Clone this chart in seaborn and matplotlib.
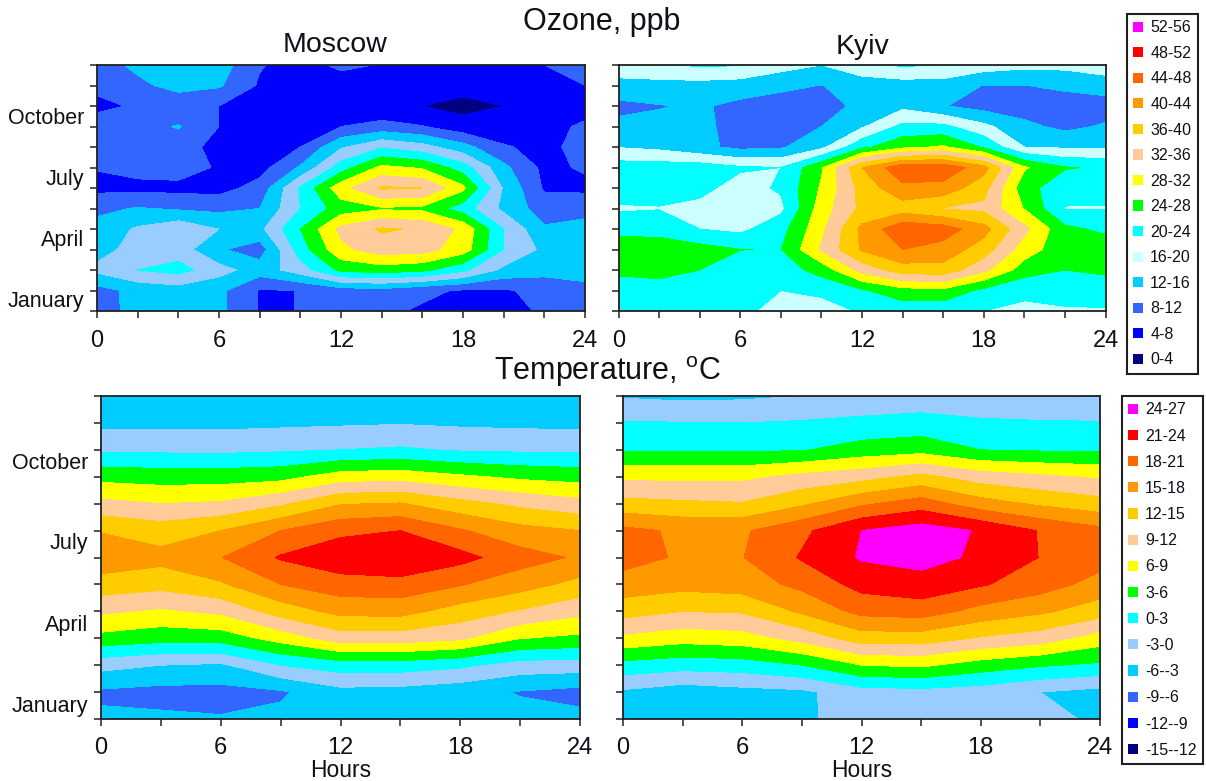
import numpy as np
import matplotlib
matplotlib.use("Agg")
import matplotlib.pyplot as plt
from matplotlib.patches import Patch
import seaborn as sns

W, H = 1206, 781

months = ["January", "April", "July", "October"]
month_pos_ozone = [0.58, 3.55, 6.55, 9.5]
month_pos_temp = [0.55, 3.55, 6.62, 9.57]
month_grid = list(range(13))
hours_ozone = list(range(0, 25, 2))
hours_temp = list(range(0, 25, 3))
hour_labels = [0, 6, 12, 18, 24]

ozone_levels = list(range(0, 57, 4))
temp_levels = list(range(-15, 28, 3))

ozone_names = ["0-4", "4-8", "8-12", "12-16", "16-20", "20-24", "24-28", "28-32",
               "32-36", "36-40", "40-44", "44-48", "48-52", "52-56"]
temp_names = ["-15--12", "-12--9", "-9--6", "-6--3", "-3-0", "0-3", "3-6", "6-9",
              "9-12", "12-15", "15-18", "18-21", "21-24", "24-27"]

base = ["#000080", "#0000FF", "#3366FF", "#00CCFF", "#CCFFFF", "#00FFFF", "#00FF00",
        "#FFFF00", "#FFCC99", "#FFCC00", "#FF9900", "#FF6600", "#FF0000", "#FF00FF"]
pale = base[:4] + ["#99CCFF"] + base[5:]

# ozone, one row per month tick from the bottom, one value per 2 hours
moscow_ozone = [
    [10, 13.5, 14.5, 13, 7.7, 8.05, 9, 8.8, 7.5, 7, 6.5, 8.6, 10],
    [10.5, 13.2, 14, 13, 7.7, 8.05, 10, 10.5, 8.8, 7.6, 7.6, 9, 10.5],
    [17, 20, 21.5, 17.5, 14, 18, 25, 26, 25, 21, 15, 13.5, 14],
    [14.5, 17.5, 18, 12.5, 10, 22, 31, 34, 33.5, 30, 20, 15, 14.5],
    [13.5, 16.5, 19, 16, 15, 24, 33, 36.5, 35.5, 31, 20, 12.5, 13],
    [11, 12.3, 11.5, 11, 12, 20, 26, 27.5, 27, 22, 15, 10, 11],
    [7, 6.8, 6.8, 6.5, 9.5, 20.5, 30.5, 36.5, 36, 29, 15.5, 7.5, 7],
    [8.2, 9.5, 10, 7.5, 6.5, 12.5, 22, 29, 27.5, 22, 13, 7, 8.5],
    [9.5, 10, 10, 6.5, 5.5, 8, 15.5, 19.5, 17.5, 13.5, 8.5, 6.5, 10],
    [10, 10.5, 12.3, 8, 5, 5.5, 8, 9.5, 8.2, 5.5, 5, 6, 9],
    [7, 8.5, 9, 8, 4.5, 4.5, 5, 4.5, 4, 2.8, 4, 5, 5.5],
    [9, 11, 13.5, 12.5, 7.5, 5.5, 6, 6.5, 6, 5.5, 6, 6.5, 8],
    [10, 13, 15, 14, 8.3, 6.5, 8.8, 7.8, 7, 6, 6.5, 8, 10],
]
kyiv_ozone = [
    [19.8, 21, 21, 21, 18.5, 18, 20.5, 21.5, 21, 20, 19.5, 19.7, 19.8],
    [21.5, 22, 22, 21.5, 20, 21, 23.5, 26.5, 27, 23, 20.5, 21, 21],
    [25, 25.5, 24, 22.5, 22, 25.5, 33.5, 38, 38.5, 33, 26, 24, 25],
    [26.5, 25.5, 25.5, 24.05, 23.9, 32.5, 40.5, 44, 42.5, 38, 30, 25.5, 27],
    [22.5, 23, 20, 19, 22.5, 31, 41, 47, 46, 41.5, 33, 25, 23],
    [19.5, 19.8, 19, 18, 19, 30, 37, 38, 35.8, 35, 27.8, 19.8, 19.8],
    [22, 21.5, 21, 18.5, 20.5, 28.5, 37.5, 43, 42.5, 37.5, 25.5, 21.5, 21],
    [22, 22, 22, 20.5, 20, 27.5, 40, 47, 47, 41.5, 28.5, 24.3, 23.5],
    [15.8, 15, 13, 11, 11.5, 15, 23, 27, 28.5, 23.5, 16, 15.5, 15.5],
    [13, 13, 13, 10.5, 10, 12, 15.5, 21, 21, 17, 13, 11, 12.5],
    [11, 11.8, 12.5, 11, 10, 9.5, 13.5, 15, 12.2, 10.5, 10, 9.5, 10],
    [14.5, 14.5, 14.5, 14, 13, 11.9, 13.5, 14, 14, 11.9, 11.9, 13, 14],
    [18.5, 19.5, 20.5, 20.2, 17.5, 16, 19, 20.5, 19.9, 18, 17, 17, 18],
]

# temperature, one column per 3 hours, written from December down to January
moscow_temp = [
    [-5, -3.8, -0.5, 5, 9.8, 14.8, 17, 13.7, 9.5, 5, -2, -6.5, -5.5],
    [-5, -3.8, -0.6, 4.6, 9, 13.5, 16, 13, 8.5, 4.1, -3, -7, -5.5],
    [-5, -3.8, -0.7, 4.6, 9.4, 15, 17.9, 14.6, 9.6, 4.3, -3.5, -7, -5.8],
    [-5, -3.6, -0.4, 5, 11.5, 18, 21.3, 18, 13.3, 7.2, 0, -6.4, -5.3],
    [-5, -3.4, 0, 7.4, 14.8, 20.3, 23, 19.7, 15.9, 10.5, 1.5, -4, -5],
    [-5, -3.2, 0.4, 7.8, 15.2, 21, 23.5, 20, 16, 10.5, 1.5, -4.2, -5],
    [-5, -3.5, -0.3, 6.5, 13, 18.3, 22, 18.2, 13.7, 9.5, 0.6, -5, -5],
    [-5, -3.7, -0.5, 5.4, 11.3, 16, 19.3, 16.3, 11.7, 6.1, -1.3, -6.2, -5],
    [-5, -3.8, -0.5, 4.8, 10, 15, 17.6, 14, 9.8, 5.3, -1.5, -7, -5.2],
]
kyiv_temp = [
    [-3.3, 0.2, 2.6, 8.3, 13, 18.8, 19.2, 16.7, 13.2, 8.3, 2, -3.5, -4.8],
    [-3.7, 0.1, 2.6, 8.3, 12.5, 17.5, 17.6, 16, 12, 7.2, 1.2, -4.7, -4.8],
    [-3.5, 0, 2.6, 8.3, 12.2, 17.6, 17.9, 16.5, 12.3, 7.7, 1.5, -4, -4.7],
    [-3, 0.3, 2.8, 9.8, 14.5, 20.3, 21.3, 18.8, 15.5, 10, 3, -3.6, -3.4],
    [-2.4, 0.8, 4.2, 10.9, 17.5, 24, 24.3, 22, 18.9, 13.5, 6, -1.3, -2],
    [-1.8, 1.1, 4.9, 12.8, 19.5, 25.5, 25, 22.9, 19.4, 13.5, 6.5, -1, -2],
    [-2.4, 0.5, 3, 10.5, 16.3, 23.7, 23.5, 21.3, 17, 11.7, 4.6, -1.5, -2.3],
    [-2.9, 0.3, 2.7, 9.5, 14.5, 20.8, 20.9, 19.4, 15.5, 10.5, 3.3, -3, -2.5],
    [-3.2, 0.2, 2.7, 8.6, 13.2, 18.8, 19.4, 16.8, 13.5, 7.5, 2.5, -4, -3.3],
]

sns.set_style("ticks")
plt.rcParams["font.family"] = ["Liberation Sans", "DejaVu Sans"]
plt.rcParams["mathtext.default"] = "regular"
TXT = "#101018"


def px_axes(fig, left, right, top, bottom):
    return fig.add_axes([left / W, 1 - bottom / H, (right - left) / W, (bottom - top) / H])


def draw_panel(ax, hours, grid, levels, colors, tick_step, xpad):
    pal = sns.color_palette(colors)
    ax.contourf(hours, month_grid, grid, levels=levels, colors=pal)
    ax.set_xlim(0, 24)
    ax.set_ylim(0, 12)
    ax.set_xticks(hour_labels)
    ax.set_xticklabels(hour_labels, fontsize=17, color=TXT)
    ax.set_xticks(list(range(0, 25, tick_step)), minor=True)
    ax.set_yticks(month_grid, minor=True)
    ax.tick_params(axis="both", which="both", length=5, width=1.1, color="#202020")
    ax.tick_params(axis="x", which="major", pad=xpad)
    ax.tick_params(axis="y", which="major", length=0, pad=9)
    for s in ax.spines.values():
        s.set_linewidth(1.3)
        s.set_color("#202020")


def month_axis(ax, pos):
    ax.set_yticks(pos)
    ax.set_yticklabels(months, fontsize=15.5, color=TXT)


def add_legend(fig, names, colors, anchor, spacing):
    handles = [Patch(facecolor=c, edgecolor="none") for c in colors]
    leg = fig.legend(handles[::-1], names[::-1], loc="upper left", bbox_to_anchor=anchor,
                     bbox_transform=fig.transFigure, fontsize=11.5, labelspacing=spacing,
                     handlelength=0.6, handleheight=0.6, handletextpad=0.45,
                     borderpad=0.4, borderaxespad=0, fancybox=False, framealpha=1,
                     edgecolor="#202020", labelcolor=TXT)
    leg.get_frame().set_linewidth(1.5)


fig = plt.figure(figsize=(W / 100, H / 100), dpi=100)

ax1 = px_axes(fig, 97, 585, 65, 311)
draw_panel(ax1, hours_ozone, np.array(moscow_ozone), ozone_levels, pale, 2, 9)
month_axis(ax1, month_pos_ozone)
ax1.set_title("Moscow", fontsize=20.5, color=TXT, pad=9, x=0.488)

ax2 = px_axes(fig, 618.5, 1105.5, 65, 311)
draw_panel(ax2, hours_ozone, np.array(kyiv_ozone), ozone_levels, base, 2, 9)
ax2.set_yticks([])
ax2.set_title("Kyiv", fontsize=20.5, color=TXT, pad=8)

ax3 = px_axes(fig, 101, 580, 396, 719)
draw_panel(ax3, hours_temp, np.array(moscow_temp).T[::-1], temp_levels, pale, 3, 8)
month_axis(ax3, month_pos_temp)
ax3.set_xlabel("Hours", fontsize=16.5, color=TXT, labelpad=0)

ax4 = px_axes(fig, 623, 1100, 396, 719)
draw_panel(ax4, hours_temp, np.array(kyiv_temp).T[::-1], temp_levels, pale, 3, 8)
ax4.set_yticks([])
ax4.set_xlabel("Hours", fontsize=16.5, color=TXT, labelpad=0)

fig.text(602 / W, 1 - 22 / H, "Ozone, ppb", fontsize=22, color=TXT, ha="center", va="center")
fig.text(608 / W, 1 - 372 / H, "Temperature, $^{o}$C", fontsize=22, color=TXT, ha="center", va="center")

add_legend(fig, ozone_names, base, (1127 / W, 1 - 14 / H), 0.66)
add_legend(fig, temp_names, pale, (1122 / W, 1 - 396 / H), 0.70)

fig.savefig("out.png", dpi=100, facecolor="white")
